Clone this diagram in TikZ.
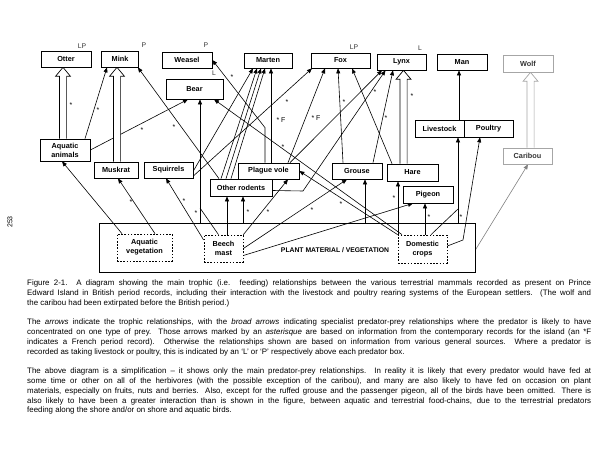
\documentclass[tikz,border=0pt]{standalone}
\usepackage{fontspec}
\setmainfont{Liberation Sans}
\usetikzlibrary{arrows.meta,calc,backgrounds}
\newcommand\broadarr[4]{%
  \draw[#1, line width=0.7pt, fill=white, line join=miter]
    let \p1=(#3.north), \p2=(#4.south) in
    ({#2pt-3.6pt},\y1) -- ({#2pt-3.6pt},\y2-9pt) -- ({#2pt-7.5pt},\y2-9pt) -- (#2pt,\y2)
    -- ({#2pt+7.5pt},\y2-9pt) -- ({#2pt+3.6pt},\y2-9pt) -- ({#2pt+3.6pt},\y1);}
\newcommand\capline[1]{\makebox[564pt][s]{#1}}
\begin{document}
\begin{tikzpicture}[x=1pt,y=-1pt,
  box/.style={draw, line width=0.7pt, fill=white, inner sep=0pt, align=center,
    font=\fontsize{7.3}{9}\selectfont\bfseries},
  gbox/.style={box, draw=gray!70, text=black!80},
  dbox/.style={box, dash pattern=on 1.6pt off 1.6pt},
  arr/.style={line width=0.6pt, -{Triangle[length=5pt,width=4pt]}},
  thinln/.style={line width=0.6pt},
  ast/.style={font=\fontsize{7}{7}\selectfont, inner sep=0pt},
  lbl/.style={font=\fontsize{6.8}{7}\selectfont, inner sep=0pt, text=black!80},
  captxt/.style={anchor=base west, inner sep=0pt, font=\fontsize{7.9}{9.8}\selectfont}]
\useasboundingbox (0,0) rectangle (600,460);

% boxes
\node[box, minimum width=50pt, minimum height=16pt] (otter) at (66,59) {Otter};
\node[box, minimum width=37pt, minimum height=16pt] (mink) at (120,59) {Mink};
\node[box, minimum width=50pt, minimum height=16pt] (weasel) at (187,60) {Weasel};
\node[box, minimum width=57pt, minimum height=20pt] (bear) at (194.5,89) {Bear};
\node[box, minimum width=48pt, minimum height=15pt] (marten) at (268,60.5) {Marten};
\node[box, minimum width=59pt, minimum height=15pt] (fox) at (340.5,60.5) {Fox};
\node[box, minimum width=49pt, minimum height=16pt] (lynx) at (401.5,62) {Lynx};
\node[box, minimum width=50pt, minimum height=16pt] (man) at (462,62) {Man};
\node[gbox, minimum width=50pt, minimum height=17pt] (wolf) at (528,63.5) {Wolf};
\node[box, minimum width=49pt, minimum height=17pt] (live) at (439.5,128.5) {Livestock};
\node[box, minimum width=49pt, minimum height=17pt] (poul) at (488.5,128.5) {Poultry};
\node[gbox, minimum width=49pt, minimum height=16pt] (carib) at (527.5,156) {Caribou};
\node[box, minimum width=50pt, minimum height=22pt] (aqan) at (65,150) {Aquatic\\animals};
\node[box, minimum width=44pt, minimum height=16pt] (musk) at (116,170) {Muskrat};
\node[box, minimum width=49pt, minimum height=16pt] (squir) at (168.5,170) {Squirrels};
\node[box, minimum width=61pt, minimum height=16pt] (vole) at (268.5,171) {Plague vole};
\node[box, minimum width=62pt, minimum height=17pt] (orod) at (241,187.5) {Other rodents};
\node[box, minimum width=50pt, minimum height=16pt] (grouse) at (357,171) {Grouse};
\node[box, minimum width=51pt, minimum height=17pt] (hare) at (412.5,172.5) {Hare};
\node[box, minimum width=50pt, minimum height=17pt] (pigeon) at (428,194.5) {Pigeon};
\node[draw, line width=0.7pt, minimum width=376pt, minimum height=49pt, inner sep=0pt] (plant) at (287,247.5) {};
\node[dbox, minimum width=55pt, minimum height=27pt] (aqveg) at (144.5,247.5) {Aquatic\\vegetation};
\node[dbox, minimum width=39pt, minimum height=27pt] (beech) at (223.5,248.5) {Beech\\mast};
\node[dbox, minimum width=49pt, minimum height=28pt] (crops) at (422.5,249) {Domestic\\crops};
\node[inner sep=0pt, font=\fontsize{6.8}{8}\selectfont\bfseries] (ptext) at (335,250) {PLANT MATERIAL / VEGETATION};

\coordinate (j1) at (458,209);
\coordinate (j2) at (463,240);
\coordinate (j3) at (200,208);
\coordinate (j4) at (303,191);

\begin{scope}[on background layer]
\draw[arr] ([xshift=20pt]aqan.north) -- ([xshift=-13pt]mink.south);
\draw[arr] (aqan.east) -- ([xshift=-6.5pt]bear.south);
\draw[arr] ([xshift=-22pt]orod.north) -- ([xshift=-1pt]mink.south east);
\draw[arr] ([xshift=-87pt]plant.north) -- ([xshift=5.5pt]bear.south);
\draw[thinln] ([xshift=-5pt]beech.north) -- (j3);
\draw[arr] ([yshift=-1pt]squir.east) -- ([xshift=-15pt]marten.south);
\draw[arr] ([yshift=-6pt]squir.east) -- ([xshift=-28.5pt]fox.south);
\draw[arr] ([xshift=-20.5pt]crops.north) -- ([xshift=19.5pt]bear.south);
\draw[arr] (crops.north west) -- (vole.east);
\draw[arr] ([xshift=-3.5pt]vole.north) -- ++(0,-35) -- (weasel.east);
\draw[arr] ([xshift=2.5pt]vole.north) -- ([xshift=3pt]marten.south);
\draw[arr] ([xshift=-20pt]orod.north) -- ([xshift=-11pt]marten.south);
\draw[arr] ([xshift=-15pt]orod.north) -- ([xshift=-7pt]marten.south);
\draw[arr] ([xshift=-10pt]orod.north) -- ([xshift=-3pt]marten.south);
\draw[arr] ([xshift=19.5pt]vole.north) -- ([xshift=-15.5pt]fox.south);
\draw[arr] ([xshift=-14pt]grouse.north) -- ([xshift=-2.5pt]fox.south);
\draw[arr] ([xshift=-20.5pt]hare.north) -- ([xshift=11.5pt]fox.south);
\draw[arr] ([xshift=21.5pt]vole.north) -- ([xshift=-19.5pt]lynx.south);
\draw[arr] ([yshift=-3pt]orod.east) -- (j4) -- ([xshift=-16pt]lynx.south);
\draw[arr] ([xshift=16pt]grouse.north) -- ([xshift=-8.5pt]lynx.south);
\draw[arr] ([xshift=19.5pt]live.north) -- ([xshift=-3pt]man.south);
\draw[arr] ([xshift=171pt]plant.north) -- ([xshift=18.5pt]live.south);
\draw[thinln] ([xshift=8.5pt]crops.north) -- (j1);
\draw[arr] ([yshift=3pt]crops.east) -- (j2) -- ([xshift=-8.5pt]poul.south);
\draw[arr, gray] ([yshift=-2.5pt]plant.east) -- ([xshift=0.5pt]carib.south);
\draw[arr] ([xshift=2.5pt]crops.north) -- ([xshift=-3pt]pigeon.south);
\draw[arr] ([yshift=-7pt]beech.east) -- ([xshift=-15pt]pigeon.south);
\draw[arr] ([xshift=-24.5pt]crops.north) -- ([xshift=-14.5pt]hare.south);
\draw[arr] ([xshift=78pt]plant.north) -- ([xshift=8pt]grouse.south);
\draw[arr] (beech.east) -- ([xshift=-10pt]grouse.south);
\draw[arr] (beech.north east) -- ([xshift=19.5pt]vole.south);
\draw[arr] ([xshift=3.5pt]beech.north) -- ([xshift=-14pt]orod.south);
\draw[arr] ([xshift=-44pt]plant.north) -- ([xshift=2pt]orod.south);
\draw[arr] ([yshift=8.5pt]beech.west) -- ([xshift=-2.5pt]squir.south);
\draw[arr] ([xshift=10.5pt]aqveg.north) -- ([xshift=2pt]musk.south);
\draw[arr] ([xshift=-22.5pt]aqveg.north) -- ([xshift=-3pt]aqan.south);
% broad arrows
\broadarr{black}{63}{aqan}{otter}
\broadarr{black}{117}{musk}{mink}
\broadarr{black}{403.5}{hare}{lynx}
\broadarr{gray!70}{530.5}{carib}{wolf}
\end{scope}

% asterisks
\node[ast] (s1) at (98,110) {*};
\node[ast] (s2) at (142,130) {*};
\node[ast] (s3) at (71,105) {*};
\node[ast] (s4) at (174,127) {*};
\node[ast] (s5) at (196,213) {*};
\node[ast] (s6) at (232,77) {*};
\node[ast] (s7) at (281,120) {* F};
\node[ast] (s8) at (287,102) {*};
\node[ast] (s9) at (316,118) {* F};
\node[ast] (s10) at (344,102) {*};
\node[ast] (s11) at (375,92) {*};
\node[ast] (s12) at (283,147) {*};
\node[ast] (s13) at (386,118) {*};
\node[ast] (s14) at (412,96) {*};
\node[ast] (s15) at (461,217) {*};
\node[ast] (s16) at (429,217) {*};
\node[ast] (s17) at (394,198) {*};
\node[ast] (s18) at (312,210) {*};
\node[ast] (s19) at (268,212) {*};
\node[ast] (s20) at (248,212) {*};
\node[ast] (s21) at (184,201) {*};
\node[ast] (s22) at (131,202) {*};
\node[ast] (s23) at (341,204) {*};

% L / P labels
\node[lbl] (l1) at (82,46) {LP};
\node[lbl] (l2) at (144,45) {P};
\node[lbl] (l3) at (206,45) {P};
\node[lbl] (l4) at (214,73) {L};
\node[lbl] (l5) at (354,47) {LP};
\node[lbl] (l6) at (420,48) {L};

\node[rotate=90, inner sep=0pt, font=\fontsize{7}{8}\selectfont] (pg) at (10,222) {253};

% caption
\node[captxt] (c1) at (27,285.5) {\capline{Figure 2-1.\hspace{1.1em}A diagram showing the main trophic (i.e. feeding) relationships between the various terrestrial mammals recorded as present on Prince}};
\node[captxt] (c2) at (27,295.3) {\capline{Edward Island in British period records, including their interaction with the livestock and poultry rearing systems of the European settlers.\ \ (The wolf and}};
\node[captxt] (c3) at (27,305.1) {the caribou had been extirpated before the British period.)};
\node[captxt] (c4) at (27,324.7) {\capline{The \textit{arrows} indicate the trophic relationships, with the \textit{broad arrows} indicating specialist predator-prey relationships where the predator is likely to have}};
\node[captxt] (c5) at (27,334.5) {\capline{concentrated on one type of prey. Those arrows marked by an \textit{asterisque} are based on information from the contemporary records for the island (an *F}};
\node[captxt] (c6) at (27,344.3) {\capline{indicates a French period record).\ \ Otherwise the relationships shown are based on information from various general sources.\ \ Where a predator is}};
\node[captxt] (c7) at (27,354.1) {recorded as taking livestock or poultry, this is indicated by an `L' or `P' respectively above each predator box.};
\node[captxt] (c8) at (27,373.7) {\capline{The above diagram is a simplification -- it shows only the main predator-prey relationships.\ \ In reality it is likely that every predator would have fed at}};
\node[captxt] (c9) at (27,383.5) {\capline{some time or other on all of the herbivores (with the possible exception of the caribou), and many are also likely to have fed on occasion on plant}};
\node[captxt] (c10) at (27,393.3) {\capline{materials, especially on fruits, nuts and berries.\ \ Also, except for the ruffed grouse and the passenger pigeon, all of the birds have been omitted. There is}};
\node[captxt] (c11) at (27,403.1) {\capline{also likely to have been a greater interaction than is shown in the figure, between aquatic and terrestrial food-chains, due to the terrestrial predators}};
\node[captxt] (c12) at (27,412.9) {feeding along the shore and/or on shore and aquatic birds.};
\end{tikzpicture}
\end{document}
